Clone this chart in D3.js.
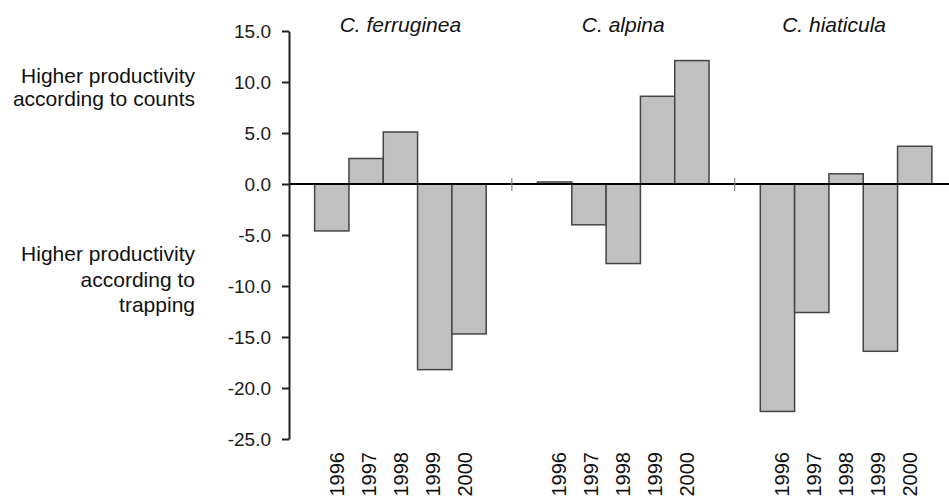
<!DOCTYPE html>
<html>
<head>
<meta charset="utf-8">
<script src="https://cdn.jsdelivr.net/npm/d3@7"></script>
<style>
  body { margin: 0; background: #fff; }
  svg { display: block; font-family: "Liberation Sans", Arial, Helvetica, sans-serif; }
</style>
</head>
<body>
<div id="chart"></div>
<script>
// Data
const species = ["C. ferruginea", "C. alpina", "C. hiaticula"];
const years = ["1996", "1997", "1998", "1999", "2000"];
const ferrugineaValues = [-4.6, 2.5, 5.1, -18.2, -14.7];
const alpinaValues = [0.2, -4.0, -7.8, 8.6, 12.1];
const hiaticulaValues = [-22.3, -12.6, 1.0, -16.4, 3.7];
const tickValues = [15, 10, 5, 0, -5, -10, -15, -20, -25];

const seriesValues = [ferrugineaValues, alpinaValues, hiaticulaValues];

const width = 949, height = 499;

const svg = d3.select("#chart").append("svg")
    .attr("width", width)
    .attr("height", height);

// Scales
const y = d3.scaleLinear().domain([-25, 15]).range([439, 31]);

const xGroup = d3.scaleBand()
    .domain(species)
    .range([289, 957.5])
    .paddingInner(0.23)
    .paddingOuter(0.115);

const xBar = d3.scaleBand().domain(years).range([0, xGroup.bandwidth()]);

// year labels are packed a little tighter than the bars
const xLabel = d3.scaleBand().domain(years).range([0, xGroup.bandwidth()]).paddingOuter(0.18);

// Flatten
const rows = [];
species.forEach((s, i) => {
    years.forEach((yr, j) => rows.push({ species: s, year: yr, value: seriesValues[i][j] }));
});

// Bars
svg.append("g").selectAll("rect").data(rows).enter().append("rect")
    .attr("x", d => xGroup(d.species) + xBar(d.year))
    .attr("y", d => y(Math.max(0, d.value)))
    .attr("width", xBar.bandwidth())
    .attr("height", d => Math.abs(y(d.value) - y(0)))
    .attr("fill", "#c0c0c0")
    .attr("stroke", "#444")
    .attr("stroke-width", 1.5);

// Zero line
svg.append("line")
    .attr("x1", 289).attr("x2", width)
    .attr("y1", y(0)).attr("y2", y(0))
    .attr("stroke", "#000").attr("stroke-width", 1.8);

// small separators between species groups
species.slice(1).forEach(s => {
    const sx = xGroup(s) - xGroup.step() * xGroup.paddingInner() / 2;
    svg.append("line")
        .attr("x1", sx).attr("x2", sx)
        .attr("y1", y(0) - 6).attr("y2", y(0) + 7)
        .attr("stroke", "#888").attr("stroke-width", 1.2);
});

// Y axis
const yAxis = svg.append("g")
    .attr("transform", "translate(289,0)")
    .call(d3.axisLeft(y).tickValues(tickValues).tickFormat(d => d.toFixed(1)).tickSize(7).tickSizeOuter(0).tickPadding(11));
yAxis.select(".domain").attr("stroke", "#222").attr("stroke-width", 2);
yAxis.selectAll(".tick line").attr("stroke", "#222").attr("stroke-width", 2);
yAxis.selectAll(".tick text")
    .style("font-size", "19px")
    .style("font-family", "'Liberation Sans', Arial, sans-serif")
    .attr("fill", "#1a1a1a");

// Year labels (rotated)
svg.append("g").selectAll("text").data(rows).enter().append("text")
    .attr("transform", d => `translate(${xGroup(d.species) + xLabel(d.year) + xLabel.bandwidth() / 2},452) rotate(-90)`)
    .attr("text-anchor", "end")
    .attr("dy", "0.36em")
    .style("font-size", "20px")
    .attr("fill", "#111")
    .text(d => d.year);

// Species titles
svg.append("g").selectAll("text").data(species).enter().append("text")
    .attr("x", d => xGroup(d) + xGroup.bandwidth() / 2)
    .attr("dx", (d, i) => i === 2 ? -12 : 0)
    .attr("y", 32)
    .attr("text-anchor", "middle")
    .style("font-size", "21px")
    .style("font-style", "italic")
    .attr("fill", "#111")
    .text(d => d);

// Side annotations
const notes = [
    { lines: ["Higher productivity", "according to counts"], y: 83, gap: 22.5 },
    { lines: ["Higher productivity", "according to", "trapping"], y: 261, gap: 25.5 }
];
notes.forEach(n => {
    n.lines.forEach((t, i) => {
        svg.append("text")
            .attr("x", 195)
            .attr("y", n.y + i * n.gap)
            .attr("text-anchor", "end")
            .style("font-size", "21px")
            .attr("fill", "#111")
            .text(t);
    });
});
</script>
</body>
</html>
